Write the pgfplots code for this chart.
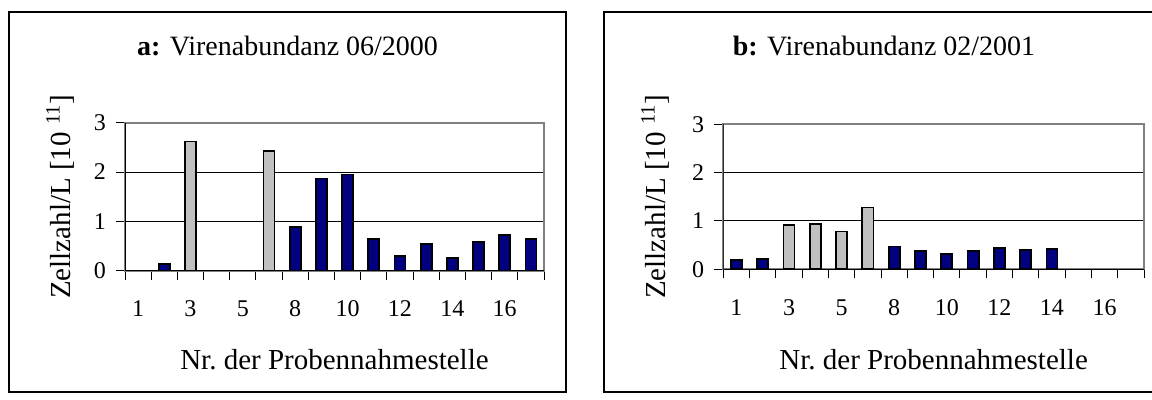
\documentclass[border=0pt]{standalone}
\usepackage{fontspec}
\setmainfont{Liberation Serif}
\usepackage{pgfplots}
\pgfplotsset{compat=1.18}
\definecolor{navybar}{RGB}{0,0,128}
\definecolor{silverbar}{RGB}{192,192,192}
\definecolor{frameGray}{RGB}{128,128,128}
\newcommand\tickfont{\fontsize{12}{14}\selectfont}
\newcommand\labfont{\fontsize{14.5}{17}\selectfont}
\newcommand\titfont{\fontsize{14}{17}\selectfont}

\pgfplotsset{
  virus/.style={
    scale only axis,
    anchor=south west,
    xmin=0.5, xmax=16.5, ymin=0, ymax=3,
    xtick={1,3,5,7,9,11,13,15},
    xticklabels={1,3,5,8,10,12,14,16},
    minor xtick={0.5,1.5,...,16.5},
    ytick={0,1,2,3},
    xtick pos=bottom, ytick pos=left,
    tick align=outside,
    major x tick style={draw=none},
    minor tick length=4.5pt, major tick length=4.5pt,
    tick style={black, line width=0.5pt},
    ymajorgrids, grid style={black, line width=0.5pt},
    axis line style={draw=frameGray, line width=1pt},
    /pgf/number format/assume math mode=true,
    xticklabel style={font=\tickfont, yshift=-7pt},
    yticklabel style={font=\tickfont, xshift=-1.5pt},
    xlabel={Nr.\ der Probennahmestelle},
    ylabel={Zellzahl/L [10 \textsuperscript{11}]},
    % the default title style shifts up by 6pt; undo it
    every axis title/.append style={font=\titfont, anchor=center, yshift=-6pt},
    every axis x label/.append style={font=\labfont, anchor=center},
    every axis y label/.append style={font=\labfont, anchor=center},
  },
  bluebars/.style={ybar, bar width=0.42, fill=navybar, draw=black, line width=0.9pt},
  graybars/.style={ybar, bar width=0.42, fill=silverbar, draw=black, line width=0.9pt},
}

\begin{document}
\begin{tikzpicture}[x=1pt,y=1pt]
\useasboundingbox (0,0) rectangle (576,200);
\clip (0,0) rectangle (576,200);
\draw[line width=0.6pt] (4.5,4) rectangle (283,194);
\draw[line width=0.6pt] (302,4) rectangle (580.5,194);

% a: 06/2000
\begin{axis}[virus,
    at={(62.5pt,64.65pt)}, width=209.5pt, height=74pt,
    title={\textbf{a:} Virenabundanz 06/2000},
    title style={at={(axis description cs:0.388,1.518)}},
    xlabel style={at={(axis description cs:0.5,-0.603)}},
    ylabel style={at={(axis description cs:-0.155,0.5)}},
]
\addplot[bluebars] coordinates {
  (2,0.14) (7,0.88) (8,1.87) (9,1.95) (10,0.65) (11,0.30)
  (12,0.54) (13,0.26) (14,0.58) (15,0.72) (16,0.65)
};
\addplot[graybars] coordinates {(3,2.62) (6,2.42)};
\draw[black, line width=0.75pt] (rel axis cs:0,0) -- (rel axis cs:0,1);
\draw[black, line width=0.75pt] (rel axis cs:0,0) -- (rel axis cs:1,0);
\end{axis}

% b: 02/2001
\begin{axis}[virus,
    at={(361.65pt,65.35pt)}, width=210.35pt, height=72.5pt,
    title={\textbf{b:} Virenabundanz 02/2001},
    title style={at={(axis description cs:0.382,1.54)}},
    xlabel style={at={(axis description cs:0.5,-0.626)}},
    ylabel style={at={(axis description cs:-0.162,0.5)}},
]
\addplot[bluebars] coordinates {
  (1,0.20) (2,0.22) (7,0.47) (8,0.38) (9,0.32) (10,0.38)
  (11,0.44) (12,0.40) (13,0.42)
};
\addplot[graybars] coordinates {(3,0.92) (4,0.94) (5,0.78) (6,1.28)};
\draw[black, line width=0.75pt] (rel axis cs:0,0) -- (rel axis cs:0,1);
\draw[black, line width=0.75pt] (rel axis cs:0,0) -- (rel axis cs:1,0);
\end{axis}
\end{tikzpicture}
\end{document}
